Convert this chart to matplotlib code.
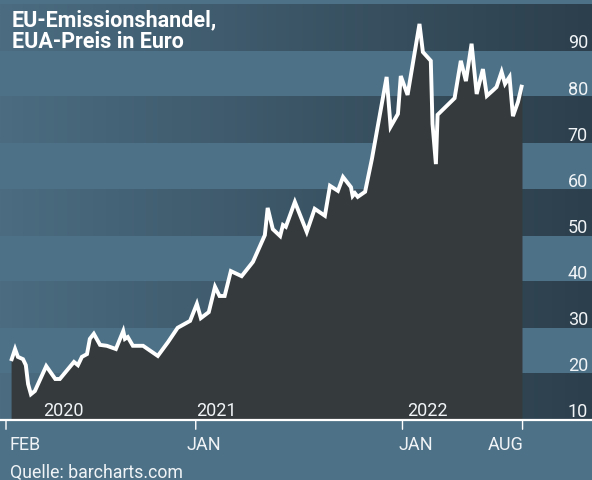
"""
EUA-Preis (EU-Emissionshandel) als Flaechenchart mit Streifenhintergrund.
"""
import numpy as np
import pandas as pd
import matplotlib
matplotlib.use("Agg")
import matplotlib.pyplot as plt
import matplotlib.dates as mdates
from matplotlib.transforms import blended_transform_factory

# ------------------------------------------------------------------
# Daten
# ------------------------------------------------------------------
DATES = [
    "2020-02-10", "2020-02-17", "2020-02-22", "2020-03-02", "2020-03-07",
    "2020-03-11", "2020-03-16", "2020-03-23", "2020-04-12", "2020-04-28",
    "2020-05-06", "2020-05-31", "2020-06-07", "2020-06-14", "2020-06-23",
    "2020-06-28", "2020-07-05", "2020-07-16", "2020-07-28", "2020-08-13",
    "2020-08-26", "2020-08-29", "2020-09-03", "2020-09-12", "2020-09-30",
    "2020-10-26", "2020-11-13", "2020-11-30", "2020-12-22", "2021-01-03",
    "2021-01-10", "2021-01-24", "2021-02-04", "2021-02-12", "2021-02-21",
    "2021-03-04", "2021-03-23", "2021-04-12", "2021-05-03", "2021-05-08",
    "2021-05-17", "2021-05-30", "2021-06-04", "2021-06-09", "2021-06-25",
    "2021-07-16", "2021-07-30", "2021-08-17", "2021-08-26", "2021-09-09",
    "2021-09-18", "2021-10-02", "2021-10-05", "2021-10-09", "2021-10-14",
    "2021-10-27", "2021-11-08", "2021-12-04", "2021-12-11", "2021-12-24",
    "2021-12-29", "2022-01-10", "2022-01-31", "2022-02-06", "2022-02-20",
    "2022-02-23", "2022-03-01", "2022-03-04", "2022-04-03", "2022-04-14",
    "2022-04-23", "2022-05-03", "2022-05-12", "2022-05-23", "2022-05-30",
    "2022-06-09", "2022-06-16", "2022-06-25", "2022-07-01", "2022-07-09",
    "2022-07-15", "2022-07-24", "2022-07-31",
]
PRICES = [
    22.8, 25.4, 23.7, 23.2, 21.9,
    17.8, 15.6, 16.3, 21.7, 18.9,
    18.9, 22.6, 21.9, 23.7, 24.3,
    27.6, 28.7, 26.3, 26.1, 25.4,
    29.3, 27.6, 28.0, 26.1, 26.1,
    23.9, 26.9, 30.0, 31.5, 35.2,
    32.1, 33.4, 38.9, 36.9, 36.9,
    42.3, 41.2, 44.3, 50.1, 56.0,
    51.4, 49.9, 52.3, 51.9, 57.3,
    50.8, 55.8, 54.3, 60.8, 59.7,
    62.7, 60.5, 58.6, 59.2, 58.4,
    59.5, 66.6, 84.4, 73.6, 76.4,
    84.6, 80.5, 95.9, 89.8, 87.9,
    74.2, 65.5, 76.2, 79.8, 87.9,
    83.5, 91.6, 80.7, 86.1, 80.3,
    81.4, 82.2, 85.5, 82.9, 84.4,
    75.9, 79.0, 82.7,
]

Y_TICKS = [10, 20, 30, 40, 50, 60, 70, 80, 90]
X_TICK_DATES = ["2020-02-01", "2021-01-01", "2022-01-01", "2022-08-01"]
X_TICK_LABELS = ["FEB", "JAN", "JAN", "AUG"]
YEAR_LABELS = ["2020", "2021", "2022"]
TITLE_LINES = ["EU-Emissionshandel,", "EUA-Preis in Euro"]

# ------------------------------------------------------------------
# Layout / Stil
# ------------------------------------------------------------------
FIGSIZE = (5.92, 4.81)
DPI = 100
FONT = "Roboto"
TXT = "#f1f4f6"
LIGHT = "#4d7187"
DARK_LEFT = np.array([75, 108, 129]) / 255
DARK_RIGHT = np.array([44, 63, 76]) / 255
FILL = "#353a3c"

X_START = pd.Timestamp("2020-02-01")
X_MIN_DAYS, X_MAX_DAYS = -10.6, 1034.6
Y_MIN, Y_MAX = -3.0, 101.3
BAND_TOP = 100

YEAR_LABEL_POS = ["2020-04-06", "2021-01-01", "2022-01-10"]
TICK_LABEL_SHIFT = [19, 8, 13, -17]   # Pixel, horizontale Verschiebung
TITLE_BASELINES = [26, 48]            # Pixel von oben

plt.rcParams["font.family"] = [FONT, "DejaVu Sans"]

dates = mdates.date2num(pd.to_datetime(DATES))
prices = np.array(PRICES)
x0 = mdates.date2num(X_START) + X_MIN_DAYS
x1 = mdates.date2num(X_START) + X_MAX_DAYS

fig = plt.figure(figsize=FIGSIZE, dpi=DPI)
fig.patch.set_facecolor(LIGHT)
ax = fig.add_axes([0, 0, 1, 1])
ax.set_facecolor(LIGHT)
ax.axis("off")

# Streifen: dunkle Baender mit Verlauf von links nach rechts
grad = np.linspace(0, 1, 256)[:, None]
grad_rgb = (DARK_LEFT[None, :] * (1 - grad) + DARK_RIGHT[None, :] * grad)[None, :, :]
for lo in range(Y_TICKS[0], BAND_TOP, 20):
    ax.imshow(grad_rgb, extent=[x0, x1, lo, lo + 10], aspect="auto",
              interpolation="bilinear", zorder=0)

# Flaeche + Linie
ax.fill_between(dates, prices, Y_TICKS[0], color=FILL, lw=0, zorder=2)
ax.plot(dates, prices, color="white", lw=2.8, solid_joinstyle="miter",
        solid_capstyle="butt", zorder=3)

# x-Achse
ax.axhline(Y_TICKS[0], color="white", lw=1.6, zorder=4)
for d, lab, dx in zip(X_TICK_DATES, X_TICK_LABELS, TICK_LABEL_SHIFT):
    xd = mdates.date2num(pd.Timestamp(d))
    ax.annotate("", xy=(xd, Y_TICKS[0]), xytext=(xd, Y_TICKS[0] - 2.0),
                arrowprops=dict(arrowstyle="-", color="white", lw=1.0,
                                shrinkA=0, shrinkB=0), zorder=4)
    ax.annotate(lab, xy=(xd, Y_TICKS[0]), xytext=(dx, -29),
                textcoords="offset pixels", ha="center", va="baseline",
                color=TXT, fontsize=13, zorder=5)

for d, lab in zip(YEAR_LABEL_POS, YEAR_LABELS):
    ax.text(mdates.date2num(pd.Timestamp(d)), Y_TICKS[0] + 1.1, lab,
            ha="left", va="baseline", color=TXT, fontsize=13, zorder=5)

# y-Beschriftung rechts
trans = blended_transform_factory(ax.transAxes, ax.transData)
for v in Y_TICKS:
    ax.text(588 / 592, v + 0.8, str(v), transform=trans, ha="right",
            va="baseline", color=TXT, fontsize=13, zorder=5)

ax.set_xlim(x0, x1)
ax.set_ylim(Y_MIN, Y_MAX)

# Titel + Quelle
for line, base in zip(TITLE_LINES, TITLE_BASELINES):
    fig.text(12 / 592, 1 - base / 481, line, ha="left", va="baseline",
             color="white", fontsize=15.5, fontweight="bold")
fig.text(10 / 592, 1 - 478 / 481, "Quelle: barcharts.com", ha="left",
         va="baseline", color=TXT, fontsize=12.8)

fig.savefig("out.png", dpi=DPI)
